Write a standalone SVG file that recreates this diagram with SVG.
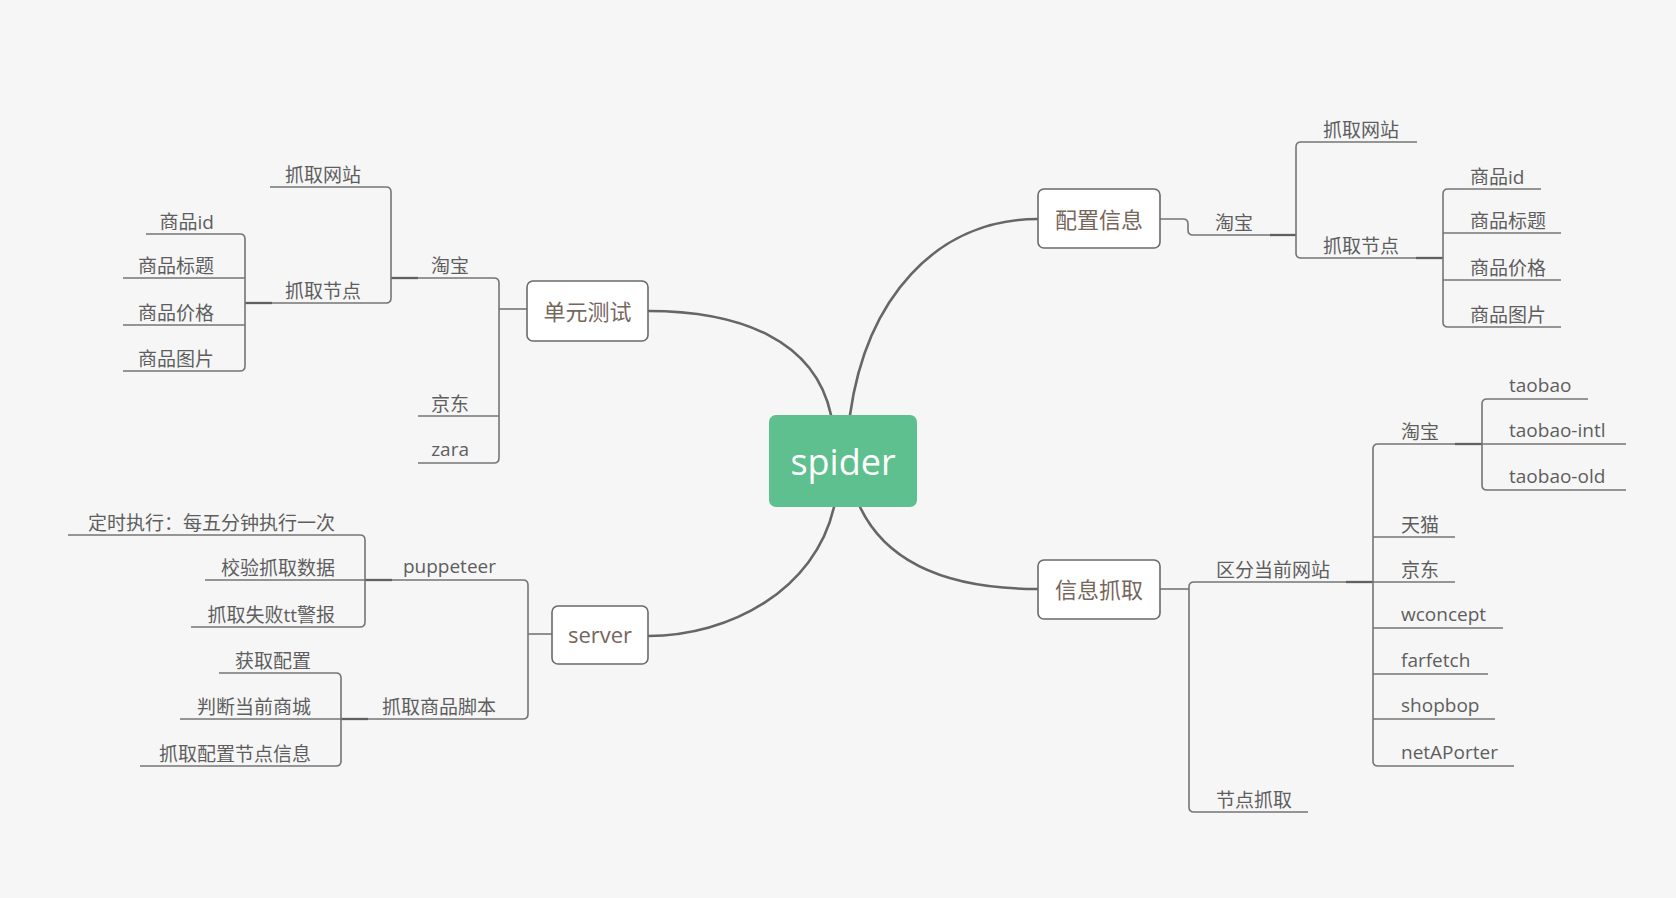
<svg xmlns="http://www.w3.org/2000/svg" width="1676" height="898" viewBox="0 0 1676 898">
<style>
.bg{fill:#f6f6f6}
.main{fill:none;stroke:#666;stroke-width:2.6;stroke-linecap:round}
.br{fill:none;stroke:#757575;stroke-width:1.6}
.dk{fill:none;stroke:#606060;stroke-width:2.3}
.box{fill:#fff;stroke:#6a6a6a;stroke-width:1.6}
.t{font-family:"Open Sans","Noto Sans CJK SC",sans-serif;font-size:19px;fill:#5e5e5e}
.e{text-anchor:end}
.mt{font-family:"Open Sans","Noto Sans CJK SC",sans-serif;font-size:22px;fill:#76665c;text-anchor:middle}
.root{font-family:"Open Sans","Noto Sans",sans-serif;font-size:36px;fill:#fff;text-anchor:middle}
</style>
<rect class="bg" x="0" y="0" width="1676" height="898"/>

<g id="connectors">
<path class="main" d="M831,415 C815,340 740,311 648,311"/>
<path class="main" d="M850,415 C866,300 935,219 1038,219"/>
<path class="main" d="M834,507 C815,590 730,636 648,636"/>
<path class="main" d="M860,507 C890,570 960,589 1038,589"/>
<path class="br" d="M527,309 H499"/>
<path class="br" d="M391,278 H494 Q499,278 499,283 V458 Q499,463 494,463 H418"/>
<path class="br" d="M418,416 H499"/>
<path class="dk" d="M391,278 H418"/>
<path class="br" d="M270,187 H386 Q391,187 391,192 V298 Q391,303 386,303 H272"/>
<path class="dk" d="M245,303 H272"/>
<path class="br" d="M146,234 H240 Q245,234 245,239 V366 Q245,371 240,371 H123"/>
<path class="br" d="M123,278 H245 M123,325 H245"/>
<path class="br" d="M1160,219 H1183 Q1188,219 1188,224 V230 Q1188,235 1193,235 H1296"/>
<path class="dk" d="M1270,235 H1296"/>
<path class="br" d="M1417,142 H1301 Q1296,142 1296,147 V253 Q1296,258 1301,258 H1443"/>
<path class="dk" d="M1416,258 H1443"/>
<path class="br" d="M1541,189 H1448 Q1443,189 1443,194 V322 Q1443,327 1448,327 H1561"/>
<path class="br" d="M1443,233 H1561 M1443,280 H1561"/>
<path class="br" d="M552,634 H528"/>
<path class="br" d="M365,580 H523 Q528,580 528,585 V714 Q528,719 523,719 H341"/>
<path class="dk" d="M365,580 H392"/>
<path class="br" d="M68,535 H360 Q365,535 365,540 V622 Q365,627 360,627 H191"/>
<path class="br" d="M205,580 H365"/>
<path class="dk" d="M341,719 H368"/>
<path class="br" d="M219,673 H336 Q341,673 341,678 V761 Q341,766 336,766 H140"/>
<path class="br" d="M180,719 H341"/>
<path class="br" d="M1160,589 H1189"/>
<path class="br" d="M1373,582 H1194 Q1189,582 1189,587 V807 Q1189,812 1194,812 H1308"/>
<path class="dk" d="M1346,582 H1373"/>
<path class="br" d="M1482,444 H1378 Q1373,444 1373,449 V761 Q1373,766 1378,766 H1514"/>
<path class="br" d="M1373,537 H1455 M1373,582 H1455 M1373,628 H1503 M1373,674 H1488 M1373,719 H1495"/>
<path class="dk" d="M1455,444 H1482"/>
<path class="br" d="M1588,399 H1487 Q1482,399 1482,404 V485 Q1482,490 1487,490 H1626"/>
<path class="br" d="M1482,444 H1626"/>
</g>

<g id="root">
<rect x="769" y="415" width="148" height="92" rx="7" fill="#5ec08e"/>
<text class="root" x="843" y="475">spider</text>
</g>

<g id="unit-test">
<rect class="box" x="527" y="281" width="121" height="60" rx="6"/>
<text class="mt" x="587.5" y="320">单元测试</text>
</g>
<g id="ut-taobao"><text class="t e" x="469" y="273">淘宝</text></g>
<g id="ut-jd"><text class="t e" x="469" y="411">京东</text></g>
<g id="ut-zara"><text class="t e" x="469" y="456">zara</text></g>
<g id="ut-site"><text class="t e" x="361" y="182">抓取网站</text></g>
<g id="ut-node"><text class="t e" x="361" y="298">抓取节点</text></g>
<g id="ut-id"><text class="t e" x="214" y="229">商品id</text></g>
<g id="ut-title"><text class="t e" x="214" y="273">商品标题</text></g>
<g id="ut-price"><text class="t e" x="214" y="320">商品价格</text></g>
<g id="ut-img"><text class="t e" x="214" y="366">商品图片</text></g>

<g id="config">
<rect class="box" x="1038" y="189" width="122" height="59" rx="6"/>
<text class="mt" x="1099" y="228">配置信息</text>
</g>
<g id="cf-taobao"><text class="t" x="1215" y="230">淘宝</text></g>
<g id="cf-site"><text class="t" x="1323" y="137">抓取网站</text></g>
<g id="cf-node"><text class="t" x="1323" y="253">抓取节点</text></g>
<g id="cf-id"><text class="t" x="1470" y="184">商品id</text></g>
<g id="cf-title"><text class="t" x="1470" y="228">商品标题</text></g>
<g id="cf-price"><text class="t" x="1470" y="275">商品价格</text></g>
<g id="cf-img"><text class="t" x="1470" y="322">商品图片</text></g>

<g id="server">
<rect class="box" x="552" y="606" width="96" height="58" rx="6"/>
<text class="mt" x="600" y="643">server</text>
</g>
<g id="sv-pup"><text class="t e" x="496" y="573">puppeteer</text></g>
<g id="sv-script"><text class="t e" x="496" y="714">抓取商品脚本</text></g>
<g id="sv-timer"><text class="t e" x="335" y="530">定时执行：每五分钟执行一次</text></g>
<g id="sv-check"><text class="t e" x="335" y="575">校验抓取数据</text></g>
<g id="sv-alarm"><text class="t e" x="335" y="622">抓取失败tt警报</text></g>
<g id="sv-getcfg"><text class="t e" x="311" y="668">获取配置</text></g>
<g id="sv-mall"><text class="t e" x="311" y="714">判断当前商城</text></g>
<g id="sv-info"><text class="t e" x="311" y="761">抓取配置节点信息</text></g>

<g id="fetch">
<rect class="box" x="1038" y="560" width="122" height="59" rx="6"/>
<text class="mt" x="1099" y="598">信息抓取</text>
</g>
<g id="ft-site"><text class="t" x="1216" y="577">区分当前网站</text></g>
<g id="ft-node"><text class="t" x="1216" y="807">节点抓取</text></g>
<g id="ft-taobao"><text class="t" x="1401" y="439">淘宝</text></g>
<g id="ft-tmall"><text class="t" x="1401" y="532">天猫</text></g>
<g id="ft-jd"><text class="t" x="1401" y="577">京东</text></g>
<g id="ft-wconcept"><text class="t" x="1401" y="621">wconcept</text></g>
<g id="ft-farfetch"><text class="t" x="1401" y="667">farfetch</text></g>
<g id="ft-shopbop"><text class="t" x="1401" y="712">shopbop</text></g>
<g id="ft-net"><text class="t" x="1401" y="759">netAPorter</text></g>
<g id="ft-tb"><text class="t" x="1509" y="392">taobao</text></g>
<g id="ft-tbintl"><text class="t" x="1509" y="437">taobao-intl</text></g>
<g id="ft-tbold"><text class="t" x="1509" y="483">taobao-old</text></g>
</svg>
